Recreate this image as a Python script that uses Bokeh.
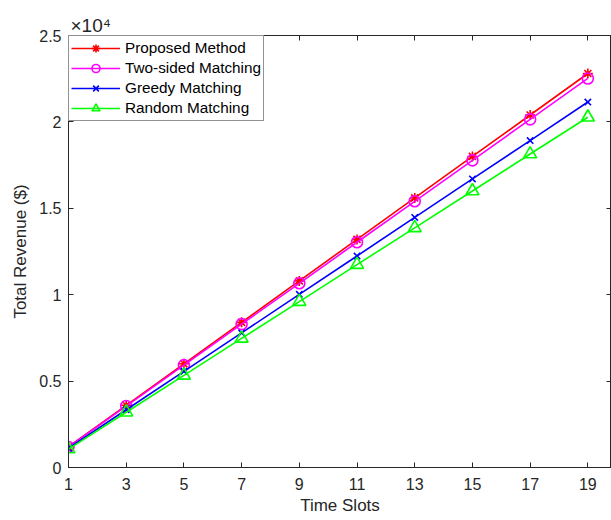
from bokeh.plotting import figure
from bokeh.models import Range1d, LinearAxis, FixedTicker, Legend, LegendItem, Title
from bokeh.embed import file_html
from bokeh.resources import INLINE

time_slots = [1, 3, 5, 7, 9, 11, 13, 15, 17, 19]
proposed = [1200, 3600, 6000, 8400, 10800, 13200, 15600, 18000, 20400, 22800]
two_sided = [1185, 3555, 5925, 8295, 10660, 13035, 15405, 17775, 20145, 22515]
greedy = [1113, 3340, 5565, 7790, 10020, 12240, 14470, 16700, 18920, 21150]
random_m = [1067, 3200, 5330, 7470, 9600, 11740, 13870, 16000, 18140, 20270]

x_ticks = [1, 3, 5, 7, 9, 11, 13, 15, 17, 19]
y_ticks = [0, 0.5, 1, 1.5, 2, 2.5]
scale = 1e4

FONT = "Liberation Sans"
TXT = "#262626"

p = figure(width=611, height=520, output_backend="svg", toolbar_location=None,
           x_range=Range1d(1, 19.82), y_range=Range1d(0, 2.5),
           min_border_left=68, min_border_right=0, min_border_top=35, min_border_bottom=53)
p.grid.visible = False
p.outline_line_color = "#262626"
p.background_fill_color = "white"
p.border_fill_color = "white"

def style_axis(ax, show_labels=True):
    ax.major_tick_in = 5
    ax.major_tick_out = 0
    ax.minor_tick_in = 0
    ax.minor_tick_out = 0
    ax.axis_line_color = "#262626"
    ax.major_tick_line_color = "#262626"
    ax.major_label_text_font = FONT
    ax.major_label_text_font_size = "16px" if show_labels else "0px"
    ax.major_label_text_color = TXT if show_labels else None
    ax.axis_label_text_font = FONT
    ax.axis_label_text_font_size = "17px"
    ax.axis_label_text_font_style = "normal"
    ax.axis_label_text_color = TXT

style_axis(p.xaxis[0])
style_axis(p.yaxis[0])

p.xaxis[0].ticker = FixedTicker(ticks=x_ticks)
p.yaxis[0].ticker = FixedTicker(ticks=y_ticks)
p.yaxis[0].major_label_overrides = {0: "0", 0.5: "0.5", 1: "1", 1.5: "1.5", 2: "2", 2.5: "2.5"}
p.xaxis[0].axis_label = "Time Slots"
p.yaxis[0].axis_label = "Total Revenue ($)"
p.xaxis[0].axis_label_standoff = 3
p.yaxis[0].axis_label_standoff = 6
p.xaxis[0].major_label_standoff = 10
p.yaxis[0].major_label_standoff = 7

top_ax = LinearAxis(ticker=FixedTicker(ticks=x_ticks))
style_axis(top_ax, show_labels=False)
top_ax.major_label_standoff = 0
p.add_layout(top_ax, "above")
right_ax = LinearAxis(ticker=FixedTicker(ticks=y_ticks))
style_axis(right_ax, show_labels=False)
right_ax.major_label_standoff = 0
p.add_layout(right_ax, "right")

def sc(vals):
    return [v / scale for v in vals]

items = []
series = [
    ("Proposed Method", proposed, "#ff0000", "asterisk", 10),
    ("Two-sided Matching", two_sided, "#ff00ff", "circle", 11),
    ("Greedy Matching", greedy, "#0000ff", "x", 9),
    ("Random Matching", random_m, "#00ff00", "triangle", 13),
]
for name, vals, col, mk, sz in series:
    r1 = p.line(time_slots, sc(vals), line_color=col, line_width=1.6)
    r2 = p.scatter(time_slots, sc(vals), marker=mk, size=sz, line_color=col,
                   fill_color=None, line_width=1.6)
    items.append(LegendItem(label=name, renderers=[r1, r2]))

legend = Legend(items=items, location="top_left")
legend.margin = 0
legend.padding = 2
legend.spacing = 0
legend.glyph_width = 49
legend.glyph_height = 20
legend.label_height = 20
legend.label_text_font = FONT
legend.label_text_font_size = "15.3px"
legend.label_text_color = "#000000"
legend.label_standoff = 5
legend.border_line_color = "#262626"
legend.border_line_width = 1
legend.background_fill_alpha = 1
p.add_layout(legend)

t = Title(text="×10⁴", align="left", offset=2, standoff=0,
          text_font=FONT, text_font_size="19px", text_font_style="normal", text_color=TXT)
p.add_layout(t, "above")

open("out.html", "w").write(file_html(p, INLINE))
